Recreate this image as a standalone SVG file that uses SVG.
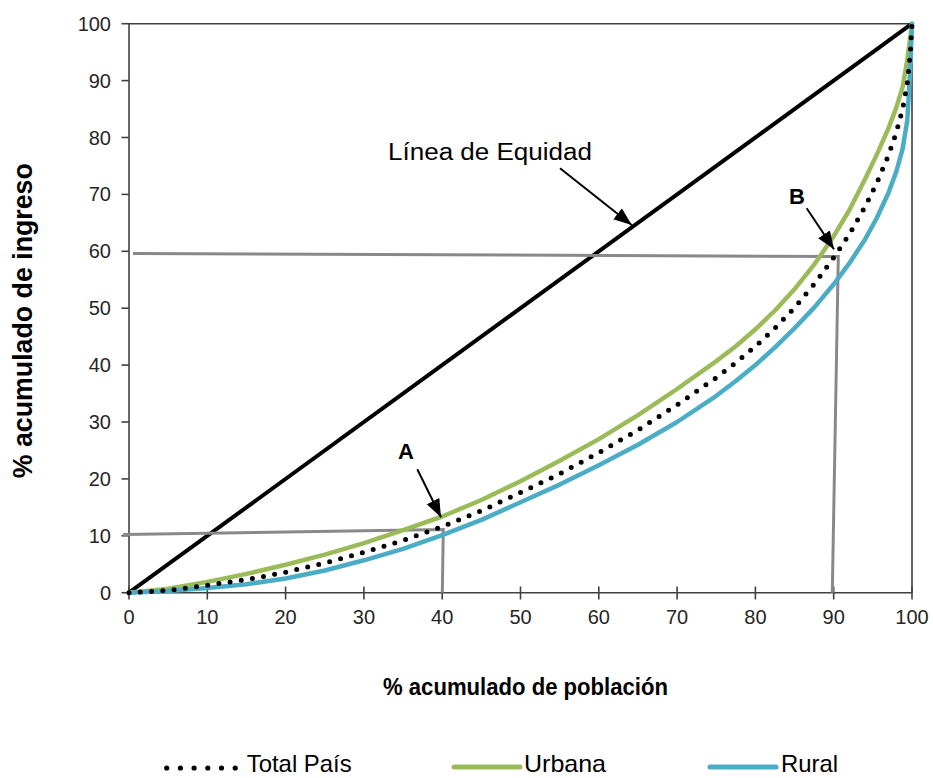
<svg xmlns="http://www.w3.org/2000/svg" width="933" height="778" viewBox="0 0 933 778">
<defs>
<style>
.ax{stroke:#404040;stroke-width:1.6;fill:none}
.tk{stroke:#404040;stroke-width:1.6}
.lbl{font-family:"Liberation Sans",Arial,sans-serif;font-size:20px;fill:#262626}
.yl{text-anchor:end}
.xl{text-anchor:middle}
.ttl{font-family:"Liberation Sans",Arial,sans-serif;font-weight:bold;fill:#000}
.leg{font-family:"Liberation Sans",Arial,sans-serif;font-size:24px;fill:#000}
.ref{stroke:#898989;stroke-width:3;fill:none;stroke-linejoin:miter}
.curve{fill:none;stroke-linejoin:round;stroke-linecap:round}
.urb{stroke:#9BBB59;stroke-width:4.5}
.rur{stroke:#4BACC6;stroke-width:4.5}
.tot{stroke:#000;stroke-width:5;stroke-dasharray:0 11.3}
.arr{stroke:#000;stroke-width:2;fill:none}
</style>
<marker id="ah" markerUnits="userSpaceOnUse" markerWidth="20" markerHeight="16" refX="18" refY="7" orient="auto">
<path d="M0,0 L18,7 L0,14 z" fill="#000"/>
</marker>
</defs>
<rect width="933" height="778" fill="#fff"/>

<g id="axes">
<polyline class="ax" points="129,23.7 912,23.7 912,592.7"/>
<line class="ax" x1="129" y1="23.7" x2="129" y2="592.7"/>
<line class="ax" x1="129" y1="592.7" x2="912" y2="592.7"/>
<g id="yticks">
<line class="tk" x1="121.5" y1="592.7" x2="129" y2="592.7"/>
<line class="tk" x1="121.5" y1="535.8" x2="129" y2="535.8"/>
<line class="tk" x1="121.5" y1="478.9" x2="129" y2="478.9"/>
<line class="tk" x1="121.5" y1="422" x2="129" y2="422"/>
<line class="tk" x1="121.5" y1="365.1" x2="129" y2="365.1"/>
<line class="tk" x1="121.5" y1="308.2" x2="129" y2="308.2"/>
<line class="tk" x1="121.5" y1="251.3" x2="129" y2="251.3"/>
<line class="tk" x1="121.5" y1="194.4" x2="129" y2="194.4"/>
<line class="tk" x1="121.5" y1="137.5" x2="129" y2="137.5"/>
<line class="tk" x1="121.5" y1="80.6" x2="129" y2="80.6"/>
<line class="tk" x1="121.5" y1="23.7" x2="129" y2="23.7"/>
</g>
<g id="xticks">
<line class="tk" x1="129" y1="586.5" x2="129" y2="599.5"/>
<line class="tk" x1="207.3" y1="586.5" x2="207.3" y2="599.5"/>
<line class="tk" x1="285.6" y1="586.5" x2="285.6" y2="599.5"/>
<line class="tk" x1="363.9" y1="586.5" x2="363.9" y2="599.5"/>
<line class="tk" x1="442.2" y1="586.5" x2="442.2" y2="599.5"/>
<line class="tk" x1="520.5" y1="586.5" x2="520.5" y2="599.5"/>
<line class="tk" x1="598.8" y1="586.5" x2="598.8" y2="599.5"/>
<line class="tk" x1="677.1" y1="586.5" x2="677.1" y2="599.5"/>
<line class="tk" x1="755.4" y1="586.5" x2="755.4" y2="599.5"/>
<line class="tk" x1="833.7" y1="586.5" x2="833.7" y2="599.5"/>
<line class="tk" x1="912" y1="586.5" x2="912" y2="599.5"/>
</g>
<g id="ylabels" class="lbl yl">
<text x="111" y="599.7">0</text>
<text x="111" y="542.8">10</text>
<text x="111" y="485.9">20</text>
<text x="111" y="429">30</text>
<text x="111" y="372.1">40</text>
<text x="111" y="315.2">50</text>
<text x="111" y="258.3">60</text>
<text x="111" y="201.4">70</text>
<text x="111" y="144.5">80</text>
<text x="111" y="87.6">90</text>
<text x="111" y="30.7">100</text>
</g>
<g id="xlabels" class="lbl xl">
<text x="129" y="624">0</text>
<text x="207.3" y="624">10</text>
<text x="285.6" y="624">20</text>
<text x="363.9" y="624">30</text>
<text x="442.2" y="624">40</text>
<text x="520.5" y="624">50</text>
<text x="598.8" y="624">60</text>
<text x="677.1" y="624">70</text>
<text x="755.4" y="624">80</text>
<text x="833.7" y="624">90</text>
<text x="912" y="624">100</text>
</g>
<text class="ttl" x="32" y="320.7" font-size="27" text-anchor="middle" textLength="315" lengthAdjust="spacingAndGlyphs" transform="rotate(-90 32 320.7)">% acumulado de ingreso</text>
<text class="ttl" x="383" y="695" font-size="24" textLength="285" lengthAdjust="spacingAndGlyphs">% acumulado de población</text>
</g>

<g id="equity-line">
<line x1="129" y1="592.7" x2="912" y2="23.7" stroke="#000" stroke-width="4"/>
</g>

<g id="reference-lines">
<polyline class="ref" points="123,534.5 443.3,529.5 442.3,592.7"/>
<polyline class="ref" points="133,253.5 838.3,256.5 832.3,592.7"/>
</g>

<g id="curves">
<polyline id="urbana" class="curve urb" points="129,592.7 168.2,588.7 207.3,581.9 246.5,573.9 285.6,564.8 324.8,554.6 363.9,543.2 403.1,530.1 442.2,516.5 481.4,500 520.5,481.2 559.7,460.7 598.8,439.1 638,415.2 677.1,389 716.3,361.1 735.8,346.3 755.4,329.3 775,310.5 794.6,289.1 814.1,264.7 833.7,236.2 849.4,210 865,179.3 876.8,154.6 888.5,128.1 896.3,107.6 902.6,87.1 907.3,59.8 912,23.7"/>
<polyline id="rural" class="curve rur" points="129,592.7 168.2,591 207.3,588.1 246.5,584.2 285.6,578.5 324.8,570.5 363.9,560.3 403.1,548.9 442.2,535.2 481.4,519.9 520.5,502.2 559.7,484.6 598.8,465.2 638,444.8 677.1,422 716.3,395.8 735.8,381 755.4,365.1 775,347.4 794.6,328.1 814.1,307.6 833.7,284.3 849.4,263.2 865,239.4 876.8,218 888.5,192.7 896.3,171.6 902.6,148.9 907.3,120.4 910.4,66.4 912,23.7"/>
<polyline id="total" class="curve tot" points="129,592.7 168.2,590.4 207.3,585.3 246.5,579.6 285.6,572.2 324.8,563.1 363.9,552.3 403.1,540.4 442.2,526.7 481.4,510.8 520.5,492.6 559.7,473.8 598.8,452.7 638,430 677.1,404.9 716.3,377.6 735.8,362.8 755.4,346.3 775,328.1 794.6,307.6 814.1,284.3 833.7,257.6 849.4,234.2 865,206.9 876.8,183 888.5,155.2 896.3,132.4 902.6,109.1 907.3,83.4 910.4,52.2 912,23.7"/>
</g>

<g id="annotation-equidad">
<text x="388" y="160" font-family="'Liberation Sans',Arial,sans-serif" font-size="23" textLength="204" lengthAdjust="spacingAndGlyphs">Línea de Equidad</text>
</g>
<g id="annotation-A">
<text x="398" y="459.3" font-family="'Liberation Sans',Arial,sans-serif" font-size="22" font-weight="bold">A</text>
</g>
<g id="annotation-B">
<text x="789" y="204.3" font-family="'Liberation Sans',Arial,sans-serif" font-size="22" font-weight="bold">B</text>
</g>

<g id="connectors">
<line class="arr" x1="560" y1="168.3" x2="631.7" y2="225" marker-end="url(#ah)"/>
<line class="arr" x1="417.3" y1="469.3" x2="441" y2="517.3" marker-end="url(#ah)"/>
<line class="arr" x1="806.7" y1="208.3" x2="834" y2="249.3" marker-end="url(#ah)"/>
</g>

<g id="legend">
<g fill="#000">
<circle cx="166.7" cy="768" r="2.6"/>
<circle cx="180.4" cy="768" r="2.6"/>
<circle cx="194.1" cy="768" r="2.6"/>
<circle cx="207.8" cy="768" r="2.6"/>
<circle cx="221.5" cy="768" r="2.6"/>
<circle cx="235.2" cy="768" r="2.6"/>
</g>
<text class="leg" x="246.7" y="772" textLength="105" lengthAdjust="spacingAndGlyphs">Total País</text>
<line x1="454" y1="767" x2="520" y2="767" stroke="#9BBB59" stroke-width="5" stroke-linecap="round"/>
<text class="leg" x="524" y="772" textLength="82" lengthAdjust="spacingAndGlyphs">Urbana</text>
<line x1="710" y1="767" x2="776" y2="767" stroke="#4BACC6" stroke-width="5" stroke-linecap="round"/>
<text class="leg" x="781" y="772" textLength="57" lengthAdjust="spacingAndGlyphs">Rural</text>
</g>
</svg>
